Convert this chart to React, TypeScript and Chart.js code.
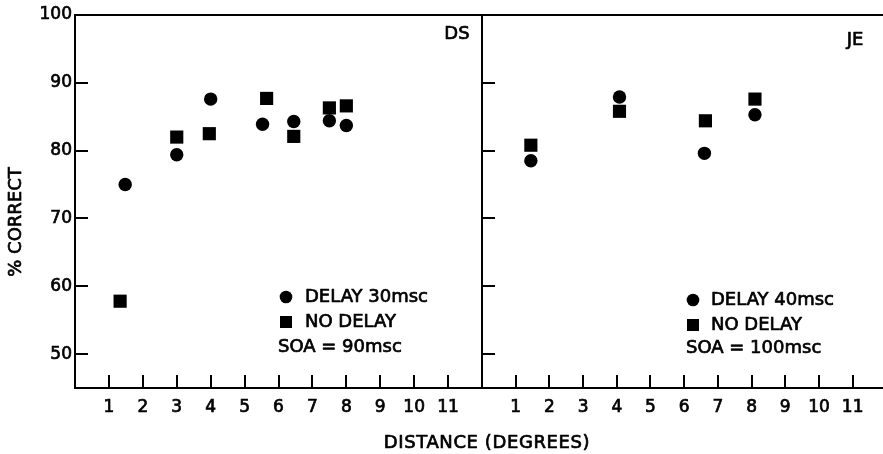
import React, { useEffect, useRef } from 'react';
import { Chart, registerables } from 'chart.js';

Chart.register(...registerables);

// ---- data ----
const yTickValues = [50, 60, 70, 80, 90, 100];
const xTickValues = [1, 2, 3, 4, 5, 6, 7, 8, 9, 10, 11];

// Observer DS (left panel)
const dsDelayX = [1.48, 3.0, 4.0, 5.53, 6.45, 7.5, 8.0];
const dsDelayY = [75.0, 79.4, 87.6, 83.9, 84.3, 84.4, 83.7];
const dsNoDelayX = [1.33, 3.0, 3.96, 5.65, 6.45, 7.5, 8.0];
const dsNoDelayY = [57.8, 82.0, 82.5, 87.7, 82.1, 86.3, 86.6];

// Observer JE (right panel)
const jeDelayX = [1.45, 4.08, 6.6, 8.1];
const jeDelayY = [78.5, 87.9, 79.6, 85.3];
const jeNoDelayX = [1.45, 4.08, 6.63, 8.1];
const jeNoDelayY = [80.8, 85.8, 84.4, 87.6];

const dsLegend = ['DELAY 30msc', 'NO DELAY', 'SOA = 90msc'];
const jeLegend = ['DELAY 40msc', 'NO DELAY', 'SOA = 100msc'];

const yTitle = '% CORRECT';
const xTitle = 'DISTANCE (DEGREES)';

// ---- layout ----
const W = 883;
const H = 454;
const FONT = '"DejaVu Sans", sans-serif';
const DIVIDER = 482;
const TEXT_STROKE = 0.7;

type Panel = {
  padLeft: number;
  padRight: number;
  yWidth: number;
  showYLabels: boolean;
  xMax: number;
  delayX: number[];
  delayY: number[];
  noDelayX: number[];
  noDelayY: number[];
  legend: string[];
  tag: string;
  tagPos: [number, number];
  legendMarkerX: number;
  legendTextX: number;
  legendY: [number, number, number];
  soaX: number;
  drawTitles: boolean;
};

const toPts = (xs: number[], ys: number[]) => xs.map((x, i) => ({ x, y: ys[i] }));

function boldText(ctx: CanvasRenderingContext2D, s: string, x: number, y: number) {
  ctx.save();
  ctx.lineWidth = TEXT_STROKE;
  ctx.lineJoin = 'round';
  ctx.strokeText(s, x, y);
  ctx.restore();
  ctx.fillText(s, x, y);
}

function decorPlugin(p: Panel) {
  return {
    id: 'decor',
    afterDraw(chart: any) {
      const { ctx, chartArea: a, scales } = chart;
      const xs = scales.x;
      const ys = scales.y;
      ctx.save();
      ctx.strokeStyle = '#000';
      ctx.fillStyle = '#000';
      ctx.lineWidth = 2;
      ctx.beginPath();
      ctx.moveTo(a.left - 1, a.top);
      ctx.lineTo(a.right, a.top);
      for (const v of yTickValues) {
        if (v >= ys.max) continue;
        const py = Math.round(ys.getPixelForValue(v));
        ctx.moveTo(a.left, py);
        ctx.lineTo(a.left + 13, py);
      }
      for (const v of xTickValues) {
        const px = Math.round(xs.getPixelForValue(v));
        ctx.moveTo(px, a.bottom);
        ctx.lineTo(px, a.bottom - 13);
      }
      ctx.stroke();

      // panel tag
      ctx.font = `18px ${FONT}`;
      ctx.textAlign = 'center';
      ctx.textBaseline = 'middle';
      boldText(ctx, p.tag, p.tagPos[0], p.tagPos[1]);

      // legend
      ctx.textAlign = 'left';
      ctx.beginPath();
      ctx.arc(p.legendMarkerX, p.legendY[0], 6.3, 0, Math.PI * 2);
      ctx.fill();
      ctx.fillRect(p.legendMarkerX - 6, p.legendY[1] - 6, 12, 12);
      boldText(ctx, p.legend[0], p.legendTextX, p.legendY[0]);
      boldText(ctx, p.legend[1], p.legendTextX, p.legendY[1]);
      boldText(ctx, p.legend[2], p.soaX, p.legendY[2]);

      if (p.drawTitles) {
        ctx.font = `18px ${FONT}`;
        ctx.textAlign = 'center';
        (ctx as any).letterSpacing = '0.6px';
        boldText(ctx, xTitle, 487, 443);
        (ctx as any).letterSpacing = '0px';
        ctx.translate(16, 222);
        ctx.rotate(-Math.PI / 2);
        boldText(ctx, yTitle, 0, 0);
      }
      ctx.restore();
    },
  };
}

function makeChart(canvas: HTMLCanvasElement, p: Panel) {
  return new Chart(canvas, {
    type: 'scatter',
    data: {
      datasets: [
        {
          label: p.legend[0],
          data: toPts(p.delayX, p.delayY),
          pointStyle: 'circle',
          pointRadius: 6.7,
          pointBorderWidth: 0,
          backgroundColor: '#000',
          borderColor: '#000',
        },
        {
          label: p.legend[1],
          data: toPts(p.noDelayX, p.noDelayY),
          pointStyle: 'rect',
          pointRadius: 9.3,
          pointBorderWidth: 0,
          backgroundColor: '#000',
          borderColor: '#000',
        },
      ],
    },
    options: {
      animation: false,
      responsive: false,
      events: [],
      layout: {
        autoPadding: false,
        padding: { left: p.padLeft, right: p.padRight, top: 15, bottom: 0 },
      },
      plugins: {
        legend: { display: false },
        tooltip: { enabled: false },
        title: { display: false },
      },
      scales: {
        x: {
          type: 'linear',
          min: 0,
          max: p.xMax,
          grid: { display: false, drawTicks: false },
          border: { display: true, color: '#000', width: 2 },
          afterBuildTicks: (s: any) => {
            s.ticks = xTickValues.map((v) => ({ value: v }));
          },
          afterFit: (s: any) => {
            s.height = H - 388;
          },
          ticks: {
            color: '#000',
            padding: 9,
            autoSkip: false,
            maxRotation: 0,
            textStrokeColor: '#000',
            textStrokeWidth: TEXT_STROKE,
            font: { family: FONT, size: 17 },
            callback: (v: any) => String(v),
          },
        },
        y: {
          type: 'linear',
          min: 45,
          max: 100,
          grid: { display: false, drawTicks: false },
          border: { display: true, color: '#000', width: 2 },
          afterBuildTicks: (s: any) => {
            s.ticks = yTickValues.map((v) => ({ value: v }));
          },
          afterFit: (s: any) => {
            s.width = p.yWidth;
          },
          ticks: {
            display: p.showYLabels,
            color: '#000',
            padding: 3,
            textStrokeColor: '#000',
            textStrokeWidth: TEXT_STROKE,
            font: { family: FONT, size: 17 },
            callback: (v: any) => String(v),
          },
        },
      },
    },
    plugins: [decorPlugin(p)],
  } as any);
}

const leftPanel: Panel = {
  padLeft: 0,
  padRight: W - DIVIDER,
  yWidth: 75,
  showYLabels: true,
  xMax: 12,
  delayX: dsDelayX,
  delayY: dsDelayY,
  noDelayX: dsNoDelayX,
  noDelayY: dsNoDelayY,
  legend: dsLegend,
  tag: 'DS',
  tagPos: [457, 34],
  legendMarkerX: 286,
  legendTextX: 305,
  legendY: [297, 322, 347],
  soaX: 278,
  drawTitles: true,
};

const rightPanel: Panel = {
  padLeft: DIVIDER,
  padRight: 0,
  yWidth: 0,
  showYLabels: false,
  xMax: 11.9,
  delayX: jeDelayX,
  delayY: jeDelayY,
  noDelayX: jeNoDelayX,
  noDelayY: jeNoDelayY,
  legend: jeLegend,
  tag: 'JE',
  tagPos: [855, 40],
  legendMarkerX: 693,
  legendTextX: 711,
  legendY: [300, 325, 348],
  soaX: 686,
  drawTitles: false,
};

export default function App() {
  const leftRef = useRef<HTMLCanvasElement>(null);
  const rightRef = useRef<HTMLCanvasElement>(null);

  useEffect(() => {
    const charts: Chart[] = [];
    if (leftRef.current) charts.push(makeChart(leftRef.current, leftPanel));
    if (rightRef.current) charts.push(makeChart(rightRef.current, rightPanel));
    return () => charts.forEach((c) => c.destroy());
  }, []);

  const cStyle: React.CSSProperties = { position: 'absolute', left: 0, top: 0, width: W, height: H };
  return (
    <div style={{ position: 'absolute', left: 0, top: 0, width: W, height: H, background: '#fff' }}>
      <canvas ref={leftRef} width={W} height={H} style={cStyle} />
      <canvas ref={rightRef} width={W} height={H} style={cStyle} />
    </div>
  );
}
